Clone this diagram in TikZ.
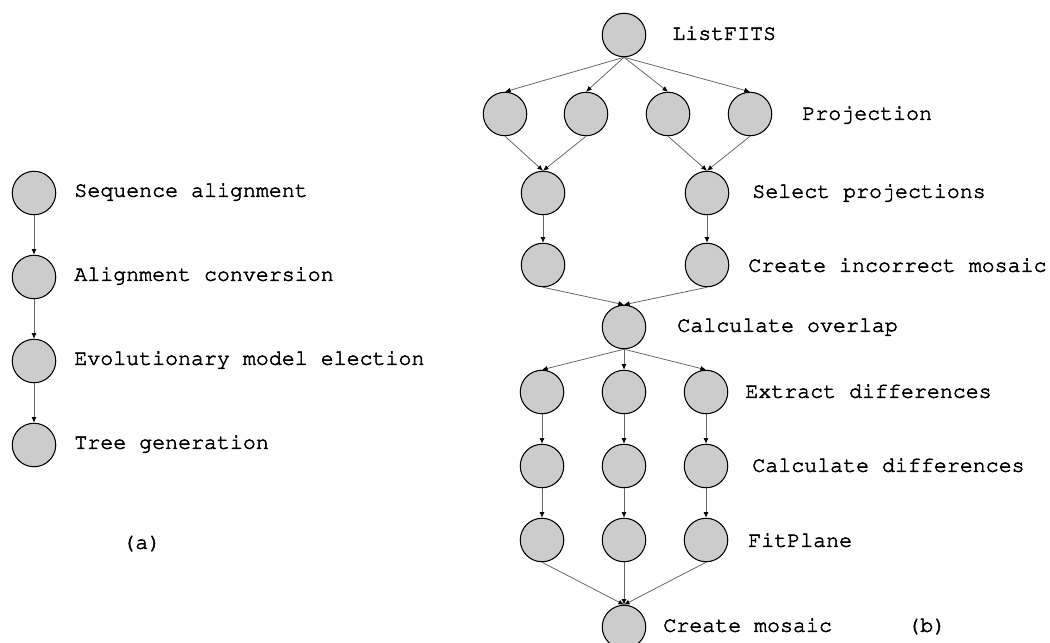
\documentclass[tikz,border=0pt]{standalone}
\usepackage[T1]{fontenc}
\renewcommand{\ttdefault}{pcr}
\usetikzlibrary{arrows.meta}
\usetikzlibrary{positioning}

% a heavier Courier: fill and stroke the glyphs
\newcommand{\heavyon}{\special{pdf:literal direct 2 Tr 0.3 w}}
\newcommand{\heavyoff}{\special{pdf:literal direct 0 Tr}}

\begin{document}
\begin{tikzpicture}
  [x=0.02cm, y=-0.02cm,
   task/.style={shape=circle, draw=black, fill=black!20, line width=0.6pt,
         inner sep=0pt, minimum size=0.87cm},
   lbl/.style={anchor=mid west, inner sep=0pt,
         font=\ttfamily\fontsize{12.3}{14}\selectfont,
         execute at begin node=\heavyon, execute at end node=\heavyoff},
   flow/.style={draw=black!60, line width=0.45pt,
         -{Latex[length=3.2pt,width=2.8pt,black]}}
  ]
  \useasboundingbox (0, 0) rectangle (1050, 642);

 % (a) sequential workflow
 \path
   (34, 193)  node (seqalign)   [task] {}
   (34, 277)  node (alnconv)    [task] {}
   (34, 361)  node (evomodel)   [task] {}
   (34, 445)  node (treegen)    [task] {}
   (74, 193)  node (lseqalign)  [lbl]  {Sequence alignment}
   (74, 277)  node (lalnconv)   [lbl]  {Alignment conversion}
   (74, 361)  node (levomodel)  [lbl]  {Evolutionary model election}
   (74, 445)  node (ltreegen)   [lbl]  {Tree generation}
   (122, 545) node (capa)       [lbl]  {(a)}
   ;

 % (b) mosaic workflow
 \path
   (624, 35)  node (listfits)   [task] {}
   (505, 114) node (proj1)      [task] {}
   (586, 114) node (proj2)      [task] {}
   (668, 114) node (proj3)      [task] {}
   (750, 114) node (proj4)      [task] {}
   (543, 193) node (select1)    [task] {}
   (707, 193) node (select2)    [task] {}
   (543, 265) node (incorr1)    [task] {}
   (707, 265) node (incorr2)    [task] {}
   (624, 327) node (overlap)    [task] {}
   (542, 392) node (extract1)   [task] {}
   (624, 392) node (extract2)   [task] {}
   (706, 392) node (extract3)   [task] {}
   (542, 466) node (calcdiff1)  [task] {}
   (624, 466) node (calcdiff2)  [task] {}
   (706, 466) node (calcdiff3)  [task] {}
   (542, 540) node (fitplane1)  [task] {}
   (624, 540) node (fitplane2)  [task] {}
   (706, 540) node (fitplane3)  [task] {}
   (624, 627) node (mosaic)     [task] {}
   (672, 36)  node (llistfits)  [lbl]  {ListFITS}
   (802, 116) node (lproj)      [lbl]  {Projection}
   (752, 194) node (lselect)    [lbl]  {Select projections}
   (748, 268) node (lincorr)    [lbl]  {Create incorrect mosaic}
   (677, 328) node (loverlap)   [lbl]  {Calculate overlap}
   (745, 394) node (lextract)   [lbl]  {Extract differences}
   (752, 468) node (lcalcdiff)  [lbl]  {Calculate differences}
   (748, 543) node (lfitplane)  [lbl]  {FitPlane}
   (663, 628) node (lmosaic)    [lbl]  {Create mosaic}
   (907, 628) node (capb)       [lbl]  {(b)}
   ;

   \begin{scope}[flow]
   \draw (seqalign.south) -- (alnconv.north);
   \draw (alnconv.south) -- (evomodel.north);
   \draw (evomodel.south) -- (treegen.north);
   \foreach \p in {proj1, proj2, proj3, proj4}
     \draw (listfits.south) -- (\p.north);
   \draw (proj1.south) -- (select1.north);
   \draw (proj2.south) -- (select1.north);
   \draw (proj3.south) -- (select2.north);
   \draw (proj4.south) -- (select2.north);
   \draw (select1.south) -- (incorr1.north);
   \draw (select2.south) -- (incorr2.north);
   \draw (incorr1.south) -- (overlap.north);
   \draw (incorr2.south) -- (overlap.north);
   \foreach \i in {1, 2, 3} {
     \draw (overlap.south) -- (extract\i.north);
     \draw (extract\i.south) -- (calcdiff\i.north);
     \draw (calcdiff\i.south) -- (fitplane\i.north);
     \draw (fitplane\i.south) -- (mosaic.north);
   }
   \end{scope}

\end{tikzpicture}
\end{document}
